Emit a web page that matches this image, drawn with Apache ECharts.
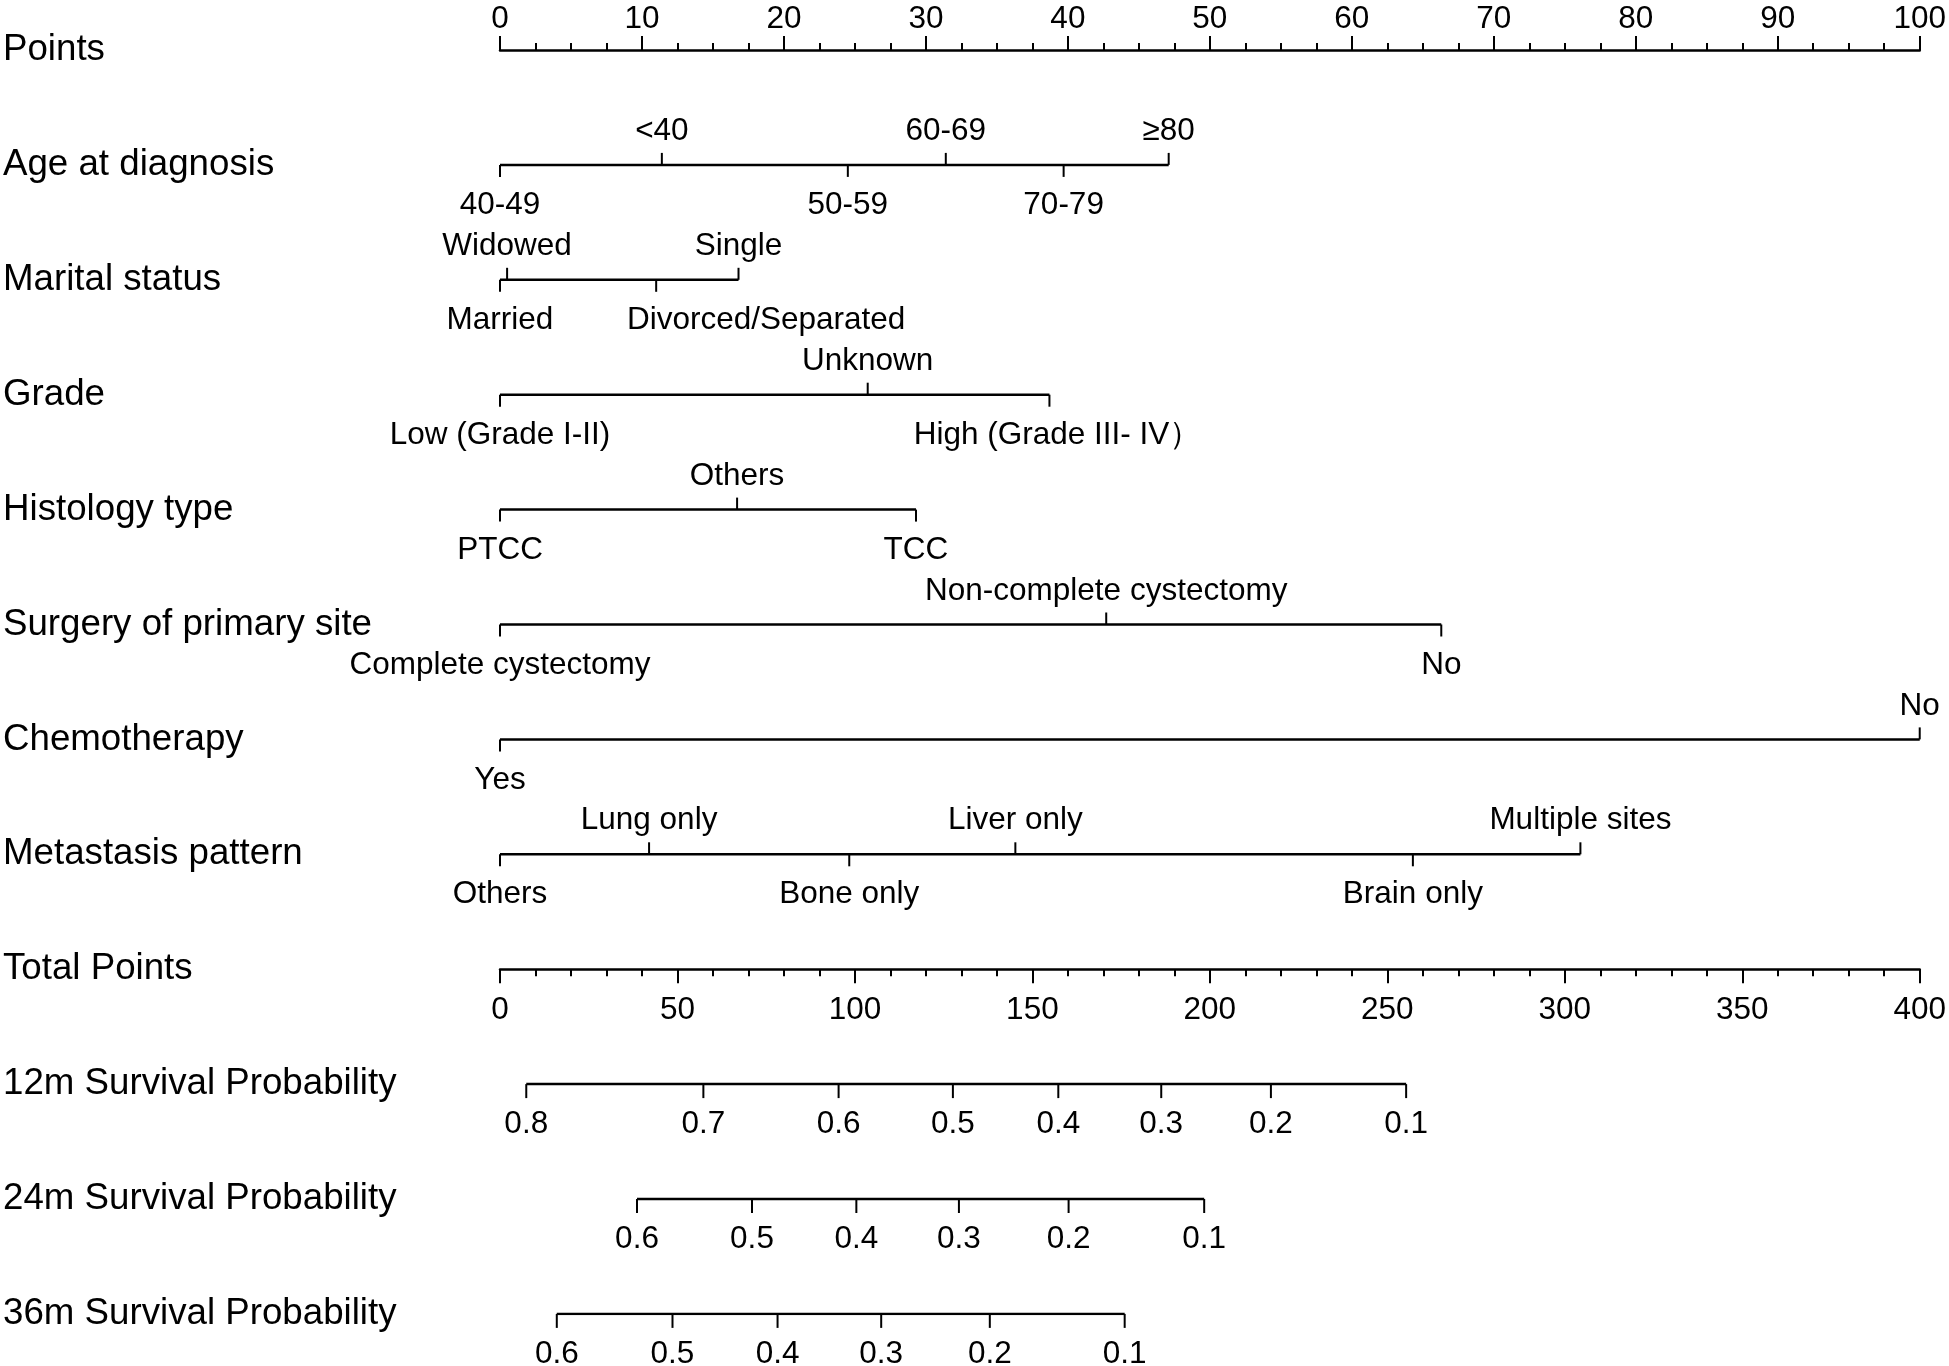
<!DOCTYPE html>
<html>
<head>
<meta charset="utf-8">
<script src="https://cdn.jsdelivr.net/npm/echarts@6/dist/echarts.min.js"></script>
<style>
html, body { margin: 0; padding: 0; background: #fff; }
#chart { width: 1949px; height: 1366px; }
</style>
</head>
<body>
<div id="chart"></div>
<script>
// row names, top to bottom
var rowNames = ['Points', 'Age at diagnosis', 'Marital status', 'Grade', 'Histology type',
	'Surgery of primary site', 'Chemotherapy', 'Metastasis pattern', 'Total Points',
	'12m Survival Probability', '24m Survival Probability', '36m Survival Probability'];

// predictor levels and their points
var ageLevels = ['40-49', '<40', '50-59', '60-69', '70-79', '≥80'];
var agePoints = [0, 11.4, 24.5, 31.4, 39.7, 47.1];
var maritalLevels = ['Married', 'Widowed', 'Divorced/Separated', 'Single'];
var maritalPoints = [0, 0.5, 11.0, 16.8];
var gradeLevels = ['Low (Grade I-II)', 'Unknown', 'High (Grade III- IV）'];
var gradePoints = [0, 25.9, 38.7];
var histLevels = ['PTCC', 'Others', 'TCC'];
var histPoints = [0, 16.7, 29.3];
var surgeryLevels = ['Complete cystectomy', 'Non-complete cystectomy', 'No'];
var surgeryPoints = [0, 42.7, 66.3];
var chemoLevels = ['Yes', 'No'];
var chemoPoints = [0, 100];
var metaLevels = ['Others', 'Lung only', 'Bone only', 'Liver only', 'Brain only', 'Multiple sites'];
var metaPoints = [0, 10.5, 24.6, 36.3, 64.3, 76.1];

// survival probability ticks, placed on total points
var surv12Labels = ['0.8', '0.7', '0.6', '0.5', '0.4', '0.3', '0.2', '0.1'];
var surv12Total = [7.4, 57.3, 95.4, 127.6, 157.3, 186.3, 217.2, 255.3];
var surv24Labels = ['0.6', '0.5', '0.4', '0.3', '0.2', '0.1'];
var surv24Total = [38.6, 71.0, 100.4, 129.3, 160.2, 198.4];
var surv36Labels = ['0.6', '0.5', '0.4', '0.3', '0.2', '0.1'];
var surv36Total = [16.0, 48.6, 78.2, 107.4, 138.0, 176.0];

var FONT = 'Arial, "Liberation Sans", sans-serif';
var ROW_H = 114.9;
var TOP = 50;
var LABEL_SIZE = 31.5;
// labels moved sideways so they do not collide (px)
var labelShift = { 'Divorced/Separated': 110, 'High (Grade III- IV）': 8 };

var predictors = [
	{ row: 1, levels: ageLevels, pts: agePoints },
	{ row: 2, levels: maritalLevels, pts: maritalPoints },
	{ row: 3, levels: gradeLevels, pts: gradePoints },
	{ row: 4, levels: histLevels, pts: histPoints },
	{ row: 5, levels: surgeryLevels, pts: surgeryPoints },
	{ row: 6, levels: chemoLevels, pts: chemoPoints },
	{ row: 7, levels: metaLevels, pts: metaPoints }
];
var survivals = [
	{ row: 9, labels: surv12Labels, total: surv12Total },
	{ row: 10, labels: surv24Labels, total: surv24Total },
	{ row: 11, labels: surv36Labels, total: surv36Total }
];

// tick + label drawn at [x, row]; value[2] = 1 above, -1 below
function renderTick(params, api){
	var p = api.coord([api.value(0), api.value(1)]);
	var dir = api.value(2);
	var tickLen = api.value(4);
	var text = api.value(3);
	var dx = labelShift[text] || 0;
	return {
		type: 'group',
		children: [{
			type: 'line',
			shape: { x1: p[0], y1: p[1], x2: p[0], y2: p[1] - dir * tickLen },
			style: { stroke: '#000', lineWidth: 2 }
		}, {
			type: 'text',
			style: {
				text: text,
				x: p[0] + dx, y: p[1] + (dir > 0 ? -33.5 : 40.5),
				align: 'center', verticalAlign: 'middle',
				fontSize: LABEL_SIZE, fontFamily: FONT, fill: '#000'
			}
		}]
	};
}

var series = [];
predictors.forEach(function(v){
	var minP = Math.min.apply(null, v.pts), maxP = Math.max.apply(null, v.pts);
	series.push({
		type: 'line', xAxisIndex: 0, yAxisIndex: 0, symbol: 'none', silent: true,
		lineStyle: { color: '#000', width: 2.5 },
		data: [[minP, v.row], [maxP, v.row]]
	});
	// alternate labels below / above in order of points
	var order = v.pts.map(function(p, i){ return i; }).sort(function(a, b){ return v.pts[a] - v.pts[b]; });
	var data = [];
	order.forEach(function(idx, k){
		data.push([v.pts[idx], v.row, k % 2 == 0 ? -1 : 1, v.levels[idx], 12]);
	});
	series.push({
		type: 'custom', xAxisIndex: 0, yAxisIndex: 0, silent: true,
		renderItem: renderTick, data: data
	});
});
survivals.forEach(function(s){
	series.push({
		type: 'line', xAxisIndex: 1, yAxisIndex: 0, symbol: 'none', silent: true,
		lineStyle: { color: '#000', width: 2.5 },
		data: [[s.total[0], s.row], [s.total[s.total.length - 1], s.row]]
	});
	var data = [];
	for(var i = 0; i < s.total.length; i++){
		data.push([s.total[i], s.row, -1, s.labels[i], 14]);
	}
	series.push({
		type: 'custom', xAxisIndex: 1, yAxisIndex: 0, silent: true,
		renderItem: renderTick, data: data
	});
});

var option = {
	animation: false,
	backgroundColor: '#fff',
	grid: {
		left: 499, right: 25, top: TOP, height: ROW_H * 11
	},
	xAxis: [{
		type: 'value', position: 'top', min: 0, max: 100, interval: 10,
		axisLine: { show: true, onZero: false, lineStyle: { color: '#000', width: 2.5 } },
		axisTick: { show: true, length: 14, lineStyle: { color: '#000', width: 2 } },
		minorTick: { show: true, splitNumber: 4, length: 7, lineStyle: { color: '#000', width: 2 } },
		axisLabel: { fontSize: LABEL_SIZE, fontFamily: FONT, color: '#000', margin: 15 },
		splitLine: { show: false }
	}, {
		type: 'value', position: 'bottom', offset: -3 * ROW_H, min: 0, max: 400, interval: 50,
		axisLine: { show: true, onZero: false, lineStyle: { color: '#000', width: 2.5 } },
		axisTick: { show: true, length: 14, lineStyle: { color: '#000', width: 2 } },
		minorTick: { show: true, splitNumber: 5, length: 7, lineStyle: { color: '#000', width: 2 } },
		axisLabel: { fontSize: LABEL_SIZE, fontFamily: FONT, color: '#000', margin: 25 },
		splitLine: { show: false }
	}],
	yAxis: {
		type: 'category', data: rowNames, inverse: true, boundaryGap: false,
		axisLine: { show: false }, axisTick: { show: false }, splitLine: { show: false },
		axisLabel: {
			align: 'left', margin: 497, fontSize: 36.7, fontFamily: FONT, color: '#000',
			interval: 0, padding: [7, 0, 0, 0]
		}
	},
	series: series
};

var myChart = echarts.init(document.getElementById('chart'));
myChart.setOption(option);
</script>
</body>
</html>
